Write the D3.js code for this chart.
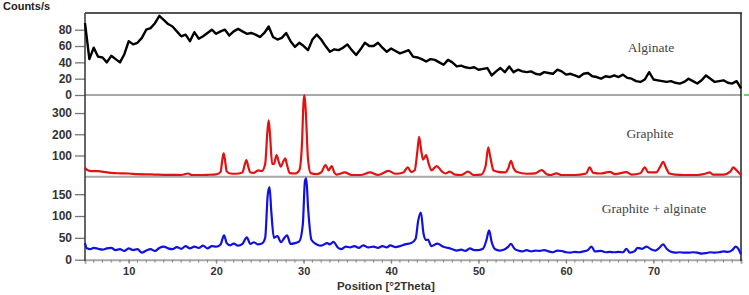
<!DOCTYPE html>
<html lang="en">
    <head>
        <meta charset="utf-8">
        <title>XRD patterns</title>
        <script type="text/javascript" src="https://cdn.jsdelivr.net/npm/d3@7/dist/d3.min.js"></script>
        <style>
            body {margin: 0; background: #fff;}
            svg {display: block;}
            .tick text {font-family: "Liberation Sans", Arial, sans-serif; font-weight: bold; fill: #333;}
        </style>
    </head>
    <body>
        <svg width="749" height="295"></svg>
        <script type="text/javascript">
        // alginate : counts every 0.5 degree from 5 to 80
        var alginateStart = 5;
        var alginateStep = 0.5;
        var alginateCounts = [88, 44, 58, 47, 46, 40, 48, 44, 40, 50,
            66, 62, 64, 70, 80, 82, 88, 97, 92, 87,
            84, 78, 72, 74, 66, 77, 69, 72, 76, 80,
            75, 78, 80, 73, 78, 81, 78, 75, 76, 74,
            71, 76, 84, 71, 68, 70, 76, 66, 59, 64,
            60, 55, 68, 74, 68, 60, 53, 56, 55, 58,
            62, 55, 49, 56, 64, 60, 60, 64, 58, 53,
            57, 54, 51, 53, 55, 47, 46, 44, 41, 44,
            43, 40, 37, 43, 40, 35, 36, 34, 33, 34,
            31, 32, 33, 24, 29, 33, 28, 35, 28, 31,
            29, 28, 29, 26, 25, 28, 27, 26, 31, 29,
            25, 26, 24, 22, 26, 27, 23, 22, 20, 23,
            22, 24, 22, 25, 21, 20, 17, 16, 19, 28,
            19, 18, 17, 16, 17, 15, 14, 16, 20, 17,
            14, 18, 24, 20, 16, 17, 18, 15, 14, 17, 8];

        // graphite : [2theta, counts]
        var graphitePoints = [[5.0, 42], [5.3, 30], [5.8, 26], [6.5, 26], [7.2, 22], [8.0, 18], [9.0, 16], [10.0, 15],
            [11.0, 12], [12.0, 11], [13.0, 10], [14.0, 9], [15.0, 9], [16.0, 8], [16.8, 15], [17.2, 8], [18.0, 8],
            [19.0, 9], [20.0, 11], [20.5, 22], [20.7, 80], [20.85, 110], [21.0, 80], [21.2, 25], [21.6, 15], [22.2, 14],
            [23.0, 20], [23.25, 55], [23.45, 78], [23.65, 50], [23.9, 20], [24.3, 18], [24.8, 30], [25.2, 26],
            [25.6, 60], [25.85, 210], [26.0, 266], [26.15, 200], [26.4, 60], [26.6, 60], [26.9, 102], [27.15, 70],
            [27.4, 47], [27.65, 70], [27.9, 86], [28.1, 55], [28.4, 17], [29.0, 15], [29.5, 30], [29.8, 150],
            [30.0, 360], [30.1, 383], [30.25, 300], [30.5, 80], [30.8, 17], [31.5, 12], [32.0, 20], [32.5, 55],
            [32.85, 30], [33.2, 50], [33.5, 20], [33.8, 10], [34.7, 20], [35.5, 8], [36.5, 8], [37.6, 20], [38.5, 8],
            [39.7, 27], [40.5, 14], [41.4, 20], [41.9, 44], [42.3, 22], [42.7, 30], [43.0, 120], [43.2, 188],
            [43.45, 120], [43.65, 80], [44.0, 102], [44.3, 60], [44.6, 30], [45.2, 50], [45.8, 25], [46.2, 15],
            [46.7, 24], [47.3, 10], [48.0, 8], [48.8, 24], [49.4, 8], [50.3, 10], [50.8, 50], [51.1, 138],
            [51.35, 90], [51.7, 30], [52.1, 24], [53.0, 20], [53.4, 40], [53.7, 75], [54.0, 40], [54.4, 22],
            [55.5, 14], [56.5, 16], [57.2, 31], [57.8, 12], [58.2, 8], [58.9, 16], [59.5, 8], [61.0, 8], [62.3, 15],
            [62.7, 44], [63.1, 18], [64.0, 15], [65.0, 23], [65.6, 12], [66.9, 22], [67.5, 10], [68.5, 16], [69.0, 44],
            [69.4, 20], [70.3, 20], [70.8, 50], [71.1, 70], [71.4, 45], [71.8, 15], [72.5, 10], [73.5, 8], [75.0, 8],
            [76.0, 15], [76.4, 20], [76.8, 10], [78.0, 10], [78.8, 25], [79.1, 44], [79.5, 30], [80.0, 8]];

        // graphite + alginate : [2theta, counts]
        var mixPoints = [[5.0, 38], [5.2, 26], [5.6, 24], [6.0, 27], [6.5, 25], [7.0, 23], [7.5, 26], [8.0, 27],
            [8.5, 22], [9.0, 24], [9.5, 20], [10.0, 26], [10.5, 22], [11.0, 24], [11.5, 16], [12.0, 21], [12.5, 24],
            [13.0, 20], [13.5, 27], [14.0, 30], [14.5, 26], [15.0, 24], [15.5, 29], [16.0, 25], [16.5, 31], [17.0, 26],
            [17.5, 30], [18.0, 27], [18.5, 32], [19.0, 26], [19.5, 31], [20.0, 30], [20.5, 35], [20.9, 56], [21.2, 38],
            [21.6, 33], [22.0, 37], [22.5, 32], [23.0, 36], [23.5, 51], [23.9, 36], [24.3, 40], [24.8, 35], [25.3, 38],
            [25.6, 50], [25.9, 150], [26.1, 166], [26.3, 110], [26.6, 50], [27.0, 54], [27.4, 40], [27.8, 50],
            [28.1, 56], [28.5, 36], [29.0, 38], [29.5, 42], [29.9, 80], [30.15, 180], [30.3, 186], [30.5, 120],
            [30.9, 45], [31.5, 35], [32.0, 32], [32.7, 38], [33.0, 35], [33.4, 41], [33.9, 28], [34.3, 24], [34.8, 30],
            [35.3, 28], [35.8, 31], [36.3, 27], [36.8, 33], [37.4, 28], [38.0, 30], [38.5, 27], [39.0, 31], [39.5, 28],
            [39.9, 33], [40.5, 29], [41.0, 31], [41.6, 35], [42.3, 38], [42.8, 48], [43.1, 90], [43.4, 108],
            [43.7, 60], [44.0, 45], [44.2, 46], [44.6, 31], [45.3, 37], [45.9, 30], [46.5, 27], [47.0, 24], [47.5, 21],
            [48.0, 23], [48.5, 20], [49.0, 26], [49.5, 22], [50.0, 22], [50.5, 25], [50.9, 45], [51.2, 67], [51.5, 40],
            [51.9, 24], [52.4, 21], [53.0, 24], [53.4, 30], [53.7, 36], [54.1, 25], [54.5, 21], [55.0, 19], [55.5, 22],
            [56.0, 19], [56.5, 21], [57.0, 20], [57.5, 22], [58.0, 19], [58.5, 17], [59.0, 21], [59.5, 20], [60.0, 17],
            [60.5, 16], [61.0, 18], [61.5, 17], [62.0, 19], [62.5, 22], [62.9, 30], [63.3, 19], [64.0, 20], [64.5, 17],
            [65.0, 18], [65.5, 17], [66.0, 18], [66.5, 17], [66.9, 25], [67.3, 16], [67.8, 19], [68.2, 27], [68.7, 25],
            [69.2, 30], [69.7, 24], [70.2, 21], [70.6, 26], [71.1, 35], [71.5, 25], [72.0, 18], [72.5, 16], [73.0, 17],
            [73.5, 16], [74.0, 16], [74.5, 17], [75.0, 16], [75.5, 14], [76.0, 15], [76.5, 17], [77.0, 16], [77.5, 17],
            [78.0, 19], [78.5, 18], [79.0, 22], [79.4, 30], [79.7, 25], [80.0, 12]];

        var alginateTicks = [0, 20, 40, 60, 80];
        var graphiteTicks = [100, 200, 300];
        var mixTicks = [0, 50, 100, 150];
        var xTicks = [10, 20, 30, 40, 50, 60, 70];
        var xMinorTicks = d3.range(6, 80, 1);
        var panelNames = ["Alginate", "Graphite", "Graphite + alginate"];

        var alginatePoints = alginateCounts.map(function (c, i) {
            return [alginateStart + i * alginateStep, c];
        });

        var svg = d3.select("svg");

        var echelleX = d3.scaleLinear().domain([5, 80]).range([85, 741]);

        // one y scale per panel
        var yAlginate = d3.scaleLinear().domain([0, 100.5]).range([95, 13]);
        var yGraphite = d3.scaleLinear().domain([0, 385]).range([176.7, 95]);
        var yMix = d3.scaleLinear().domain([0, 190]).range([259.7, 176.7]);

        // separating lines
        svg.append("line").attr("x1", 85).attr("x2", 741).attr("y1", yAlginate(0)).attr("y2", yAlginate(0))
            .attr("stroke", "#a8a8a8").attr("stroke-width", 2);
        svg.append("line").attr("x1", 85).attr("x2", 741).attr("y1", yGraphite(0)).attr("y2", yGraphite(0))
            .attr("stroke", "#a8a8a8").attr("stroke-width", 2);

        // y axes
        function axeY(echelle, ticks) {
            var g = svg.append("g")
                .attr("transform", "translate(85, 0)")
                .call(d3.axisLeft(echelle).tickValues(ticks).tickSize(10).tickPadding(3).tickFormat(d3.format("d")));
            g.select(".domain").remove();
            g.selectAll(".tick line").attr("stroke", "#777").attr("stroke-width", 1.3);
            g.selectAll(".tick text").style("font-size", "12px");
            return g;
        }
        axeY(yAlginate, alginateTicks);
        axeY(yGraphite, graphiteTicks);
        axeY(yMix, mixTicks);

        // x axis
        var gx = svg.append("g")
            .attr("transform", "translate(0," + yMix(0) + ")")
            .call(d3.axisBottom(echelleX).tickValues(xTicks).tickSize(4).tickPadding(4).tickFormat(d3.format("d")));
        gx.select(".domain").attr("stroke", "#a8a8a8").attr("stroke-width", 2);
        gx.selectAll(".tick line").attr("stroke", "#777");
        gx.selectAll(".tick text").style("font-size", "11px");

        svg.append("g")
            .selectAll("line")
            .data(xMinorTicks)
            .enter()
            .append("line")
                .attr("x1", function (d) { return echelleX(d); })
                .attr("x2", function (d) { return echelleX(d); })
                .attr("y1", yMix(0))
                .attr("y2", yMix(0) + 3)
                .attr("stroke", "#888")
                .attr("stroke-width", 1);

        svg.append("text")
            .attr("x", echelleX(39.4))
            .attr("y", 289.5)
            .attr("text-anchor", "middle")
            .style("font-family", "'Liberation Sans', Arial, sans-serif")
            .style("font-weight", "bold")
            .style("font-size", "11.5px")
            .style("fill", "#333")
            .text("Position [°2Theta]");

        svg.append("text")
            .attr("x", 3)
            .attr("y", 10)
            .style("font-family", "'Liberation Sans', Arial, sans-serif")
            .style("font-weight", "bold")
            .style("font-size", "11px")
            .style("fill", "#222")
            .text("Counts/s");

        // frame : left, top, right
        svg.append("line").attr("x1", 85).attr("x2", 85).attr("y1", 13).attr("y2", 261)
            .attr("stroke", "#333").attr("stroke-width", 1.5);
        svg.append("line").attr("x1", 85).attr("x2", 742).attr("y1", 13).attr("y2", 13)
            .attr("stroke", "#555").attr("stroke-width", 2);
        svg.append("line").attr("x1", 741).attr("x2", 741).attr("y1", 13).attr("y2", 261)
            .attr("stroke", "#222").attr("stroke-width", 1.5);
        svg.append("line").attr("x1", 744).attr("x2", 749).attr("y1", 95).attr("y2", 95)
            .attr("stroke", "#3c3").attr("stroke-width", 1.5);

        // curves
        var series = [
            {pts: alginatePoints, y: yAlginate, color: "#000", curve: d3.curveLinear, width: 2.4},
            {pts: graphitePoints, y: yGraphite, color: "#e31212", curve: d3.curveMonotoneX, width: 2.2},
            {pts: mixPoints, y: yMix, color: "#1010e0", curve: d3.curveMonotoneX, width: 2.2}
        ];
        series.forEach(function (s) {
            var ligne = d3.line()
                .x(function (d) { return echelleX(d[0]); })
                .y(function (d) { return s.y(d[1]); })
                .curve(s.curve);
            svg.append("path")
                .datum(s.pts)
                .attr("d", ligne)
                .attr("fill", "none")
                .attr("stroke", s.color)
                .attr("stroke-width", s.width)
                .attr("stroke-linejoin", "round");
        });

        // panel labels
        var labelPos = [[651, 52], [650, 138], [654, 213]];
        svg.selectAll("text.nom")
            .data(panelNames)
            .enter()
            .append("text")
                .classed("nom", true)
                .attr("x", function (d, i) { return labelPos[i][0]; })
                .attr("y", function (d, i) { return labelPos[i][1]; })
                .attr("text-anchor", "middle")
                .style("font-family", "'Liberation Serif', 'Times New Roman', serif")
                .style("font-size", "13.5px")
                .style("fill", "#444")
                .text(function (d) { return d; });
        </script>
    </body>
</html>
